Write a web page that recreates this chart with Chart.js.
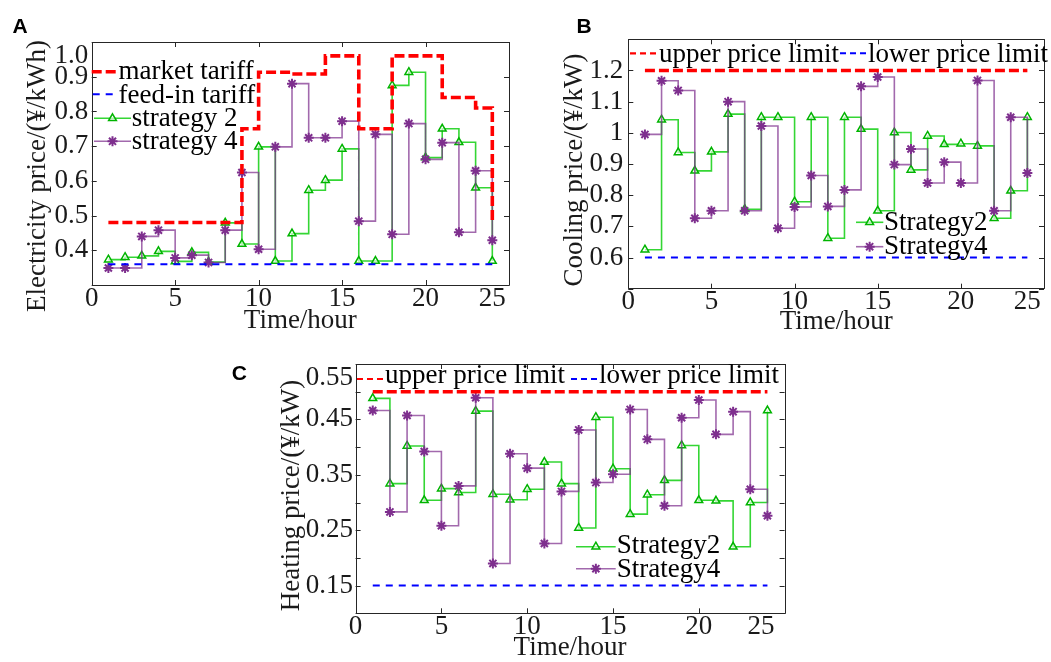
<!DOCTYPE html>
<html>
<head>
<meta charset="utf-8">
<script src="https://cdn.jsdelivr.net/npm/chart.js@4.4.0/dist/chart.umd.min.js"></script>
<style>
  body { margin: 0; background: #fff; }
  canvas { position: absolute; }
</style>
</head>
<body>
<canvas id="chartA" width="525" height="340" style="left:0;top:0"></canvas>
<canvas id="chartB" width="521" height="340" style="left:530px;top:0"></canvas>
<canvas id="chartC" width="590" height="322" style="left:220px;top:340px"></canvas>
<script>
const hours = [1, 2, 3, 4, 5, 6, 7, 8, 9, 10, 11, 12, 13, 14, 15, 16, 17, 18, 19, 20, 21, 22, 23, 24];

// A: electricity price
const marketTariff = [0.48, 0.48, 0.48, 0.48, 0.48, 0.48, 0.48, 0.48, 0.75, 0.913, 0.913, 0.908, 0.908, 0.96, 0.96, 0.75, 0.75, 0.96, 0.96, 0.96, 0.84, 0.84, 0.81, 0.48];
const feedInTariff = [0.36, 0.36, 0.36, 0.36, 0.36, 0.36, 0.36, 0.36, 0.36, 0.36, 0.36, 0.36, 0.36, 0.36, 0.36, 0.36, 0.36, 0.36, 0.36, 0.36, 0.36, 0.36, 0.36, 0.36];
const elecStrategy2 = [0.373, 0.38, 0.384, 0.397, 0.368, 0.394, 0.366, 0.479, 0.418, 0.698, 0.369, 0.448, 0.573, 0.602, 0.692, 0.369, 0.369, 0.875, 0.913, 0.667, 0.75, 0.711, 0.58, 0.369];
const elecStrategy4 = [0.349, 0.349, 0.44, 0.458, 0.378, 0.386, 0.365, 0.458, 0.624, 0.403, 0.698, 0.88, 0.724, 0.724, 0.772, 0.484, 0.734, 0.446, 0.765, 0.662, 0.71, 0.452, 0.629, 0.429];

// B: cooling price
const coolUpper = [1.2, 1.2, 1.2, 1.2, 1.2, 1.2, 1.2, 1.2, 1.2, 1.2, 1.2, 1.2, 1.2, 1.2, 1.2, 1.2, 1.2, 1.2, 1.2, 1.2, 1.2, 1.2, 1.2, 1.2];
const coolLower = [0.6, 0.6, 0.6, 0.6, 0.6, 0.6, 0.6, 0.6, 0.6, 0.6, 0.6, 0.6, 0.6, 0.6, 0.6, 0.6, 0.6, 0.6, 0.6, 0.6, 0.6, 0.6, 0.6, 0.6];
const coolStrategy2 = [0.625, 1.042, 0.937, 0.878, 0.939, 1.06, 0.755, 1.05, 1.05, 0.779, 1.05, 0.662, 1.05, 1.012, 0.75, 1.001, 0.881, 0.99, 0.963, 0.965, 0.958, 0.726, 0.814, 1.05];
const coolStrategy4 = [0.995, 1.167, 1.136, 0.726, 0.75, 1.1, 0.75, 1.022, 0.694, 0.762, 0.863, 0.764, 0.817, 1.149, 1.179, 0.898, 0.948, 0.839, 0.906, 0.839, 1.168, 0.75, 1.05, 0.871];

// C: heating price
const heatUpper = [0.5, 0.5, 0.5, 0.5, 0.5, 0.5, 0.5, 0.5, 0.5, 0.5, 0.5, 0.5, 0.5, 0.5, 0.5, 0.5, 0.5, 0.5, 0.5, 0.5, 0.5, 0.5, 0.5, 0.5];
const heatLower = [0.15, 0.15, 0.15, 0.15, 0.15, 0.15, 0.15, 0.15, 0.15, 0.15, 0.15, 0.15, 0.15, 0.15, 0.15, 0.15, 0.15, 0.15, 0.15, 0.15, 0.15, 0.15, 0.15, 0.15];
const heatStrategy2 = [0.488, 0.334, 0.402, 0.304, 0.325, 0.318, 0.465, 0.315, 0.305, 0.324, 0.373, 0.334, 0.254, 0.454, 0.361, 0.279, 0.314, 0.34, 0.403, 0.304, 0.303, 0.22, 0.30, 0.466];
const heatStrategy4 = [0.466, 0.283, 0.457, 0.392, 0.258, 0.33, 0.489, 0.19, 0.388, 0.362, 0.226, 0.32, 0.431, 0.336, 0.351, 0.468, 0.414, 0.294, 0.453, 0.485, 0.423, 0.464, 0.324, 0.276];

const serif = '"Liberation Serif", "Times New Roman", serif';
const ink = '#1a1a1a';
const bigFont = { family: serif, size: 27, lineHeight: 1 };

function stairs(ys) {
    return hours.map(function (h, i) { return { x: h, y: ys[i] }; });
}

function redDash(label, ys) {
    return { label: label, data: stairs(ys), stepped: true, borderColor: 'rgb(255,0,0)', borderWidth: 3.6, borderDash: [10, 4], pointRadius: 0, order: 0 };
}
function blueDash(label, ys) {
    return { label: label, data: stairs(ys), stepped: true, borderColor: 'rgb(0,0,255)', borderWidth: 2, borderDash: [7, 6], pointRadius: 0, order: 1 };
}
function greenLine(label, ys) {
    return {
        label: label, data: stairs(ys), stepped: true, borderColor: 'rgba(30,210,30,0.9)', borderWidth: 1.6,
        pointStyle: 'triangle', pointRadius: 4.5, pointBorderWidth: 1.5, pointBorderColor: '#00b400',
        pointBackgroundColor: 'rgba(255,255,255,0.6)', order: 3
    };
}
function purpleLine(label, ys) {
    return {
        label: label, data: stairs(ys), stepped: true, borderColor: 'rgba(126,47,142,0.72)', borderWidth: 1.6,
        pointStyle: 'star', pointRadius: 5, pointBorderWidth: 2, pointBorderColor: '#7e2f8e',
        pointBackgroundColor: '#7e2f8e', order: 2
    };
}

// frame with inward ticks, y title, in-plot legend and panel letter
const panelDecor = {
    id: 'panelDecor',
    afterDraw(chart, args, opts) {
        const ctx = chart.ctx;
        const area = chart.chartArea;
        const xs = chart.scales.x, ys = chart.scales.y;
        ctx.save();
        ctx.strokeStyle = '#262626';
        ctx.lineWidth = 1;
        ctx.beginPath();
        ctx.rect(Math.round(area.left) + 0.5, Math.round(area.top) + 0.5,
            Math.round(area.right - area.left), Math.round(area.bottom - area.top));
        xs.ticks.forEach(function (t) {
            const px = Math.round(xs.getPixelForValue(t.value)) + 0.5;
            ctx.moveTo(px, area.bottom); ctx.lineTo(px, area.bottom - 5);
            ctx.moveTo(px, area.top); ctx.lineTo(px, area.top + 5);
        });
        ys.ticks.forEach(function (t) {
            const py = Math.round(ys.getPixelForValue(t.value)) + 0.5;
            ctx.moveTo(area.left, py); ctx.lineTo(area.left + 5, py);
            ctx.moveTo(area.right, py); ctx.lineTo(area.right - 5, py);
        });
        ctx.stroke();

        // rotated y-axis title
        ctx.save();
        ctx.translate(opts.yTitleX, opts.yTitleY);
        ctx.rotate(-Math.PI / 2);
        ctx.fillStyle = ink;
        ctx.font = '27px ' + serif;
        ctx.textAlign = 'center';
        ctx.textBaseline = 'middle';
        ctx.fillText(opts.yTitle, 0, 0);
        ctx.restore();

        opts.entries.forEach(function (e) {
            const ds = chart.data.datasets[e.ds];
            ctx.strokeStyle = ds.borderColor;
            ctx.lineWidth = e.lw || ds.borderWidth;
            ctx.setLineDash(e.dash || ds.borderDash || []);
            ctx.beginPath();
            ctx.moveTo(e.x0, e.y);
            ctx.lineTo(e.x1, e.y);
            ctx.stroke();
            ctx.setLineDash([]);
            if (ds.pointRadius > 0) {
                ctx.strokeStyle = ds.pointBorderColor;
                ctx.fillStyle = ds.pointBackgroundColor;
                ctx.lineWidth = ds.pointBorderWidth;
                Chart.helpers.drawPoint(ctx, { pointStyle: ds.pointStyle, radius: ds.pointRadius, borderWidth: ds.pointBorderWidth, rotation: 0 }, (e.x0 + e.x1) / 2, e.y);
            }
            ctx.fillStyle = '#000';
            ctx.font = '27px ' + serif;
            ctx.textAlign = 'left';
            ctx.textBaseline = 'alphabetic';
            ctx.fillText(ds.label, e.tx, e.ty);
        });

        ctx.fillStyle = '#000';
        ctx.font = 'bold 21px "Liberation Sans", Arial, sans-serif';
        ctx.textAlign = 'left';
        ctx.textBaseline = 'alphabetic';
        ctx.fillText(opts.letter, opts.letterX, opts.letterY);
        ctx.restore();
    }
};

function noLabelPadding(s) {
    s.paddingLeft = 0;
    s.paddingRight = 0;
    s.paddingTop = 0;
    s.paddingBottom = 0;
}

function makePanel(id, p) {
    return new Chart(document.getElementById(id), {
        type: 'line',
        data: { datasets: p.datasets },
        options: {
            responsive: false,
            animation: false,
            devicePixelRatio: 1,
            layout: { padding: p.padding },
            plugins: {
                legend: { display: false },
                tooltip: { enabled: false },
                panelDecor: p.decor
            },
            scales: {
                x: {
                    type: 'linear', min: 0, max: 25,
                    afterFit: function (s) { s.height = p.xHeight; noLabelPadding(s); },
                    grid: { display: false, drawTicks: false },
                    border: { display: false },
                    ticks: {
                        stepSize: 5, autoSkip: false, maxRotation: 0, minRotation: 0, padding: 0,
                        color: ink, font: bigFont,
                        callback: function (v) { return v === 25 ? '25' + ' '.repeat(p.lastPad) : String(v); }
                    },
                    title: { display: true, text: 'Time/hour', color: ink, font: bigFont, padding: { top: 0, bottom: p.xTitlePad } }
                },
                y: {
                    type: 'linear', min: p.yMin, max: p.yMax,
                    afterFit: function (s) { s.width = p.yWidth; noLabelPadding(s); },
                    grid: { display: false, drawTicks: false },
                    border: { display: false },
                    ticks: { stepSize: p.yStep, autoSkip: false, padding: p.yTickPad, color: ink, font: bigFont, callback: p.yLabel }
                }
            }
        },
        plugins: [panelDecor]
    });
}

makePanel('chartA', {
    datasets: [
        redDash('market tariff', marketTariff),
        blueDash('feed-in tariff', feedInTariff),
        greenLine('strategy 2', elecStrategy2),
        purpleLine('strategy 4', elecStrategy4)
    ],
    padding: { left: 0, top: 42, right: 16, bottom: 0 },
    xHeight: 55, yWidth: 91.7, xTitlePad: 5.5, yTickPad: 3.4, lastPad: 5,
    yMin: 0.3, yMax: 1.0, yStep: 0.1,
    yLabel: function (v) {
        const r = Math.round(v * 10) / 10;
        if (r < 0.35) return '';
        if (r === 1) return ['', '1.0'];
        return r.toFixed(1);
    },
    decor: {
        letter: 'A', letterX: 12.5, letterY: 33.3,
        yTitle: 'Electricity price/(¥/kWh)', yTitleX: 38, yTitleY: 176,
        entries: [
            { ds: 0, x0: 91.7, x1: 118, y: 71.7, tx: 118.5, ty: 79.3 },
            { ds: 1, x0: 92.7, x1: 118, y: 94.3, tx: 118.5, ty: 102.7 },
            { ds: 2, x0: 94, x1: 131, y: 118.3, tx: 131.7, ty: 126 },
            { ds: 3, x0: 94, x1: 131, y: 141.3, tx: 131.7, ty: 149 }
        ]
    }
});

makePanel('chartB', {
    datasets: [
        redDash('upper price limit', coolUpper),
        blueDash('lower price limit', coolLower),
        greenLine('Strategy2', coolStrategy2),
        purpleLine('Strategy4', coolStrategy4)
    ],
    padding: { left: 0, top: 39.3, right: 3, bottom: 0 },
    xHeight: 51.3, yWidth: 98.3, xTitlePad: 4.5, yTickPad: 5, lastPad: 5,
    yMin: 0.5, yMax: 1.3, yStep: 0.1,
    yLabel: function (v) {
        const r = Math.round(v * 10) / 10;
        if (r < 0.55 || r > 1.25) return '';
        return String(r);
    },
    decor: {
        letter: 'B', letterX: 46.5, letterY: 33.3,
        yTitle: 'Cooling price/(¥/kW)', yTitleX: 45, yTitleY: 170,
        entries: [
            { ds: 0, x0: 100, x1: 126.7, y: 53.3, tx: 129, ty: 61.7, lw: 2.2, dash: [6, 4] },
            { ds: 1, x0: 310, x1: 336.7, y: 53.3, tx: 338, ty: 61.7, dash: [6, 4] },
            { ds: 2, x0: 326, x1: 353.3, y: 222.3, tx: 354, ty: 230 },
            { ds: 3, x0: 326, x1: 353.3, y: 246.7, tx: 354, ty: 254 }
        ]
    }
});

makePanel('chartC', {
    datasets: [
        redDash('upper price limit', heatUpper),
        blueDash('lower price limit', heatLower),
        greenLine('Strategy2', heatStrategy2),
        purpleLine('Strategy4', heatStrategy4)
    ],
    padding: { left: 0, top: 24, right: 25.4, bottom: 0 },
    xHeight: 48.7, yWidth: 135.6, xTitlePad: 0.5, yTickPad: 2.6, lastPad: 7,
    yMin: 0.1, yMax: 0.55, yStep: 0.05,
    yLabel: function (v) {
        const k = Math.round(v * 100);
        if (k % 10 !== 5) return '';
        if (k === 55) return ['', '0.55'];
        return (k / 100).toFixed(2);
    },
    decor: {
        letter: 'C', letterX: 11.7, letterY: 40,
        yTitle: 'Heating price/(¥/kW)', yTitleX: 71.5, yTitleY: 155.5,
        entries: [
            { ds: 0, x0: 137, x1: 165, y: 39, tx: 165, ty: 43.3, lw: 2.2, dash: [6, 4] },
            { ds: 1, x0: 351, x1: 378, y: 39, tx: 379, ty: 43.3, dash: [6, 4] },
            { ds: 2, x0: 356, x1: 395.7, y: 206.7, tx: 396.7, ty: 213.3 },
            { ds: 3, x0: 356, x1: 395.7, y: 228.7, tx: 396.7, ty: 237.3 }
        ]
    }
});
</script>
</body>
</html>
